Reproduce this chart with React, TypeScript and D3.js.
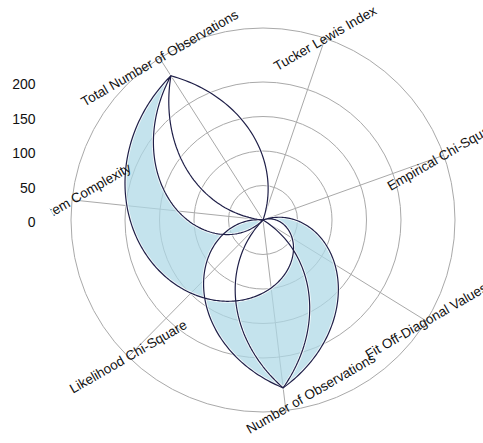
import React from "react";
import * as d3 from "d3";

// Categories in the order they sit around the circle (clockwise).
const CATEGORIES = [
  "Empirical Chi-Square",
  "Fit Off-Diagonal Values",
  "Number of Observations",
  "Likelihood Chi-Square",
  "Item Complexity",
  "Total Number of Observations",
  "Tucker Lewis Index",
];

// Observed value per category.
const VALUES = [0, 0, 245, 0, 0, 248, 0];

// Order in which the shaded band visits the categories.
const BAND_ORDER = [
  "Empirical Chi-Square",
  "Number of Observations",
  "Item Complexity",
  "Likelihood Chi-Square",
  "Total Number of Observations",
  "Empirical Chi-Square",
];

const RADIAL_TICKS = [0, 50, 100, 150, 200];

const W = 483;
const H = 443;
const CX = 263;
const CY = 220;
const OUTER = 192;
const START_DEG = 70.3;
const LABEL_ROT = -30;

// Per-label nudges so long names stay inside the canvas.
const LABEL_NUDGE: Record<string, [number, number]> = {
  "Number of Observations": [25, -17],
  "Item Complexity": [16, -9],
};

const toRad = (d: number) => (d * Math.PI) / 180;

const angle = d3
  .scaleLinear()
  .domain([0, CATEGORIES.length])
  .range([toRad(START_DEG), toRad(START_DEG + 360)]);

const radius = d3.scaleLinear().domain([0, 200]).range([0, 138]);

type Pt = [number, number]; // [category index, value]

// Straight segments in (angle, radius) space, sampled finely.
function sampleSegments(points: Pt[]): Pt[] {
  const out: Pt[] = [];
  for (let k = 0; k < points.length - 1; k++) {
    const [i0, v0] = points[k];
    const [i1, v1] = points[k + 1];
    const n = Math.max(2, Math.ceil(Math.abs(i1 - i0) * 60));
    for (let s = 0; s < n; s++) {
      const t = s / n;
      out.push([i0 + t * (i1 - i0), v0 + t * (v1 - v0)]);
    }
  }
  out.push(points[points.length - 1]);
  return out;
}

const radial = d3
  .lineRadial<Pt>()
  .angle((d) => angle(d[0]))
  .radius((d) => radius(d[1]))
  .curve(d3.curveLinear);

const seriesPoints: Pt[] = VALUES.map((v, i) => [i, v]);
const bandPoints: Pt[] = BAND_ORDER.map((name) => {
  const i = CATEGORIES.indexOf(name);
  return [i, VALUES[i]];
});

const seriesPath = radial(sampleSegments(seriesPoints)) || "";
const bandPath = radial(sampleSegments(bandPoints)) || "";

const polar = (i: number, r: number): [number, number] => {
  const a = angle(i);
  return [CX + r * Math.sin(a), CY - r * Math.cos(a)];
};

const FONT = "'Liberation Sans', Arial, Helvetica, sans-serif";
const LINE = "#1f1f48";
const GRID = "#a9a9a9";

export default function App() {
  return (
    <svg
      width={W}
      height={H}
      viewBox={`0 0 ${W} ${H}`}
      style={{ position: "absolute", left: 0, top: 0, background: "#fff" }}
    >
      <defs>
        <clipPath id="leftEdge">
          <rect x={46} y={0} width={W} height={H} />
        </clipPath>
      </defs>
      <rect x={0} y={0} width={W} height={H} fill="#fff" />

      {/* grid rings */}
      {RADIAL_TICKS.filter((t) => t > 0).map((t) => (
        <circle key={t} cx={CX} cy={CY} r={radius(t)} fill="none" stroke={GRID} strokeWidth={1} />
      ))}
      <circle cx={CX} cy={CY} r={OUTER} fill="none" stroke={GRID} strokeWidth={1} />

      {/* spokes */}
      {CATEGORIES.map((c, i) => {
        const [x, y] = polar(i, OUTER);
        return <line key={c} x1={CX} y1={CY} x2={x} y2={y} stroke={GRID} strokeWidth={1} />;
      })}

      <g transform={`translate(${CX},${CY})`}>
        {/* shaded band */}
        <path d={bandPath} fill="#add8e6" fillOpacity={0.72} fillRule="evenodd" stroke="none" />
        {/* halos */}
        <path d={seriesPath} fill="none" stroke="#fff" strokeOpacity={0.8} strokeWidth={3} strokeLinejoin="round" />
        <path d={bandPath} fill="none" stroke="#fff" strokeOpacity={0.8} strokeWidth={3} strokeLinejoin="round" />
        {/* lines */}
        <path d={seriesPath} fill="none" stroke={LINE} strokeWidth={1.2} strokeLinejoin="round" />
        <path d={bandPath} fill="none" stroke={LINE} strokeWidth={1.2} strokeLinejoin="round" />
      </g>

      {/* radial tick labels */}
      {RADIAL_TICKS.map((t) => (
        <text
          key={t}
          x={35.5}
          y={CY - radius(t) + 7}
          textAnchor="end"
          fontFamily={FONT}
          fontSize={14}
          fill="#111"
        >
          {t}
        </text>
      ))}

      {/* category labels */}
      {CATEGORIES.map((c, i) => {
        const [x0, y0] = polar(i, OUTER);
        const [dx, dy] = LABEL_NUDGE[c] || [0, 0];
        const x = x0 + dx;
        const y = y0 + dy;
        return (
          <text
            key={c}
            x={x}
            y={y}
            textAnchor="middle"
            dominantBaseline="central"
            fontFamily={FONT}
            fontSize={13.5}
            fill="#111"
            transform={`rotate(${LABEL_ROT},${x},${y})`}
            clipPath={c === "Item Complexity" ? "url(#leftEdge)" : undefined}
          >
            {c}
          </text>
        );
      })}
    </svg>
  );
}
